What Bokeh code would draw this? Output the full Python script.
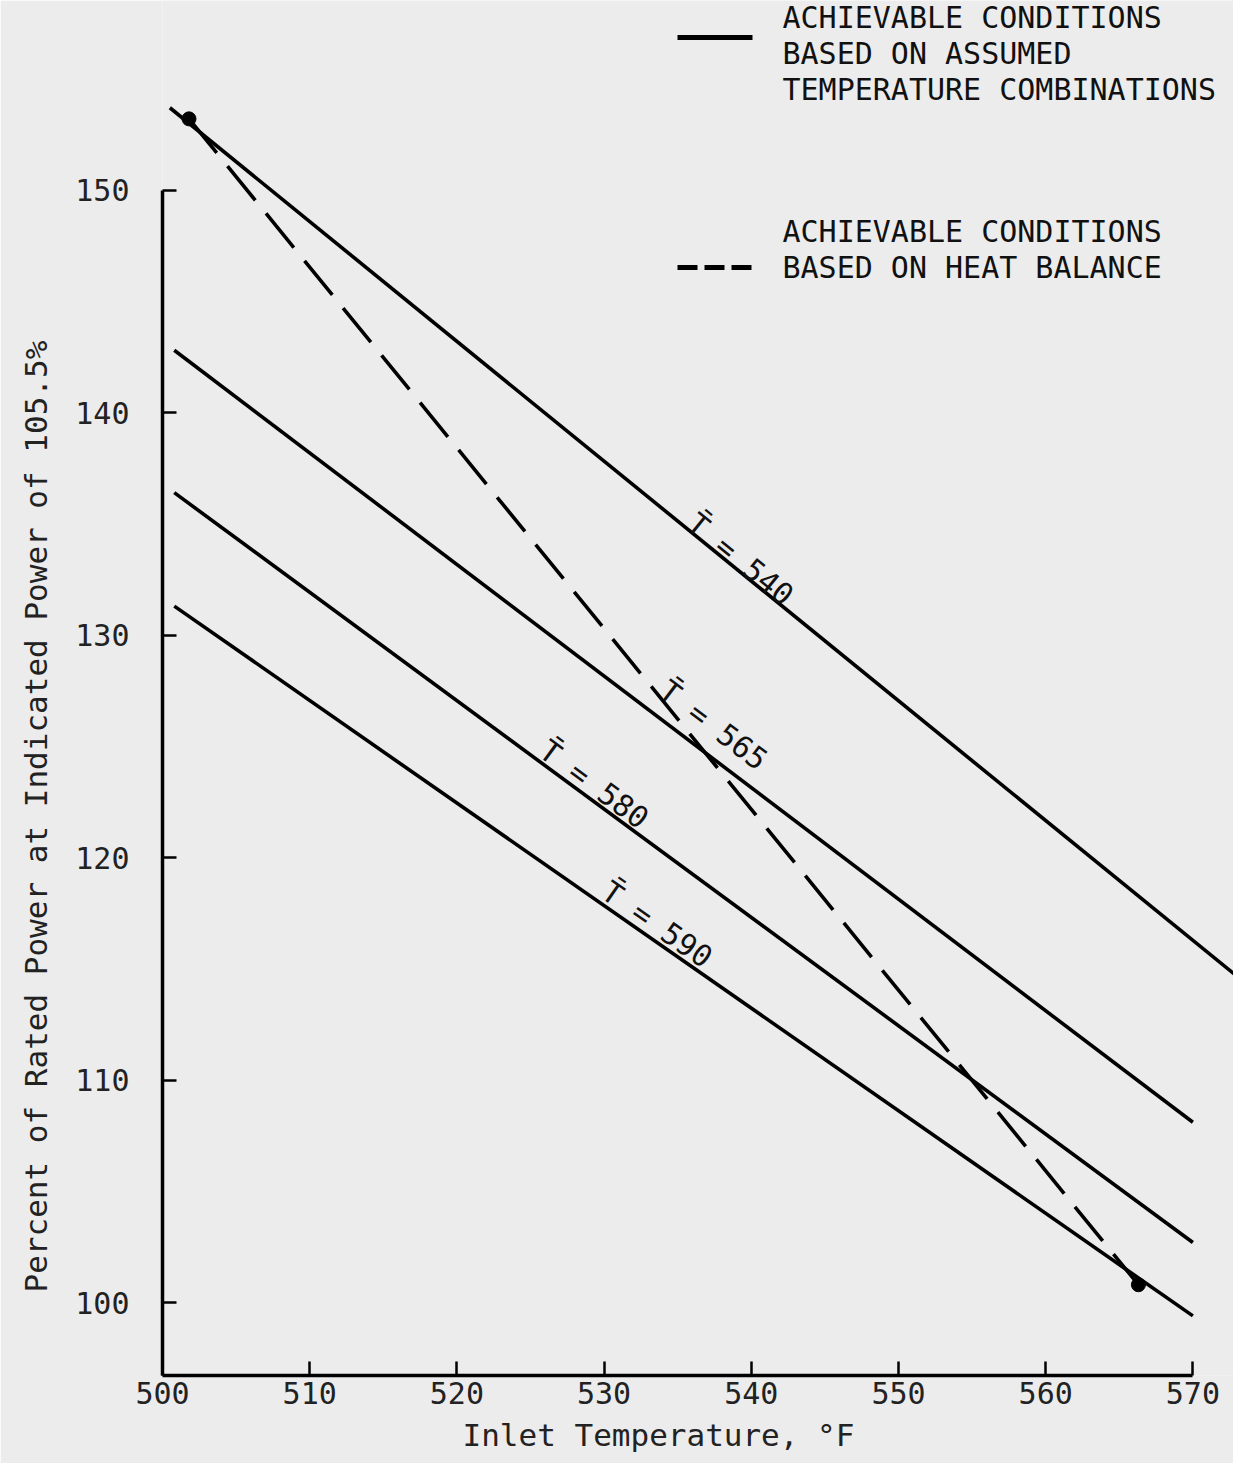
import math
from bokeh.plotting import figure
from bokeh.models import FixedTicker, Title
from bokeh.embed import file_html
from bokeh.resources import INLINE
from bokeh.core.properties import value

# ---------------- data ----------------
t_labels = ["T\u0304 = 540", "T\u0304 = 565", "T\u0304 = 580", "T\u0304 = 590"]
line_x_start = [500.5, 500.8, 500.8, 500.8]
line_y_start = [153.7, 142.8, 136.4, 131.3]
line_x_end = [573.3, 570.0, 570.0, 570.0]
line_y_end = [114.5, 108.1, 102.7, 99.4]
label_x = [535.5, 532.9, 525.3, 529.5]          # where each T-label sits along its line

heat_x = [501.8, 566.3]                           # heat-balance line end points
heat_y = [153.2, 100.8]

x_ticks = [500, 510, 520, 530, 540, 550, 560, 570]
y_ticks = [100, 110, 120, 130, 140, 150]

legend_solid_text = ["ACHIEVABLE CONDITIONS", "BASED ON ASSUMED", "TEMPERATURE COMBINATIONS"]
legend_dash_text = ["ACHIEVABLE CONDITIONS", "BASED ON HEAT BALANCE"]
x_label = "Inlet Temperature, \u00b0F"
y_label = "Percent of Rated Power at Indicated Power of 105.5%"

# ---------------- layout ----------------
FONT = "DejaVu Sans Mono"
BG = "#ececec"
FW, FH = 1071, 1375
X0, X1 = 500.0, 572.76
Y0, Y1 = 96.72, 158.52
kx = FW / (X1 - X0)
ky = FH / (Y1 - Y0)
LEFT_PX, TOP_PX = 170, 8   # reference position of frame's left / top edge


def px_x(px):
    return X0 + (px - LEFT_PX) / kx


def px_y(py):
    return Y1 - (py - TOP_PX) / ky


p = figure(frame_width=FW, frame_height=FH, x_range=(X0, X1), y_range=(Y0, Y1),
           min_border_left=162, min_border_right=0, min_border_top=0, min_border_bottom=88,
           output_backend="svg", toolbar_location=None, tools="")
p.background_fill_color = BG
p.border_fill_color = BG
p.outline_line_color = None
p.xgrid.visible = False
p.ygrid.visible = False

for ax, ticks, bounds in ((p.xaxis, x_ticks, (500, 570)), (p.yaxis, y_ticks, (Y0, 150))):
    ax.ticker = FixedTicker(ticks=ticks)
    ax.bounds = bounds
    ax.major_tick_in = 14
    ax.major_tick_out = 0
    ax.minor_tick_in = 0
    ax.minor_tick_out = 0
    ax.axis_line_width = 3.5
    ax.axis_line_color = "black"
    ax.major_tick_line_width = 2.5
    ax.major_tick_line_color = "black"
    ax.major_label_text_font = FONT
    ax.major_label_text_font_size = "30px"
    ax.major_label_text_color = "#222222"
p.xaxis.major_label_standoff = 6
p.yaxis.major_label_standoff = 33

# axis titles (as titles, so they can be placed off-centre like the reference)
p.add_layout(Title(text=x_label, align="left", offset=300, standoff=16,
                   vertical_align="bottom",
                   text_font=FONT, text_font_size="31px", text_font_style="normal",
                   text_color="#222222"), "below")
p.add_layout(Title(text=y_label, align="left", offset=83, standoff=34,
                   vertical_align="top",
                   text_font=FONT, text_font_size="31px", text_font_style="normal",
                   text_color="#222222"), "left")

# constant-average-temperature lines
p.segment(x0=line_x_start, y0=line_y_start, x1=line_x_end, y1=line_y_end,
          line_color="black", line_width=3.6)

# heat balance line with end dots
p.line(heat_x, heat_y, line_color="black", line_width=3.6, line_dash="44 17")
p.scatter(heat_x, heat_y, size=14, color="black")

# labels along lines
label_gap = [10, 27, 14, 15]
tx, ty, ta = [], [], []
for i in range(len(t_labels)):
    dx = line_x_end[i] - line_x_start[i]
    dy = line_y_end[i] - line_y_start[i]
    th = math.atan2(dy * ky, dx * kx)
    yl = line_y_start[i] + (label_x[i] - line_x_start[i]) * dy / dx
    tx.append(label_x[i] + label_gap[i] * (-math.sin(th)) / kx)
    ty.append(yl + label_gap[i] * math.cos(th) / ky)
    ta.append(th)
p.text(x=tx, y=ty, text=t_labels, angle=ta, text_align="left", text_baseline="alphabetic",
       text_font=value(FONT), text_font_size="30px", text_color="#111111")

# legend
p.segment(x0=[px_x(685)], y0=[px_y(45)], x1=[px_x(760)], y1=[px_y(45)],
          line_color="black", line_width=5)
p.segment(x0=[px_x(685)], y0=[px_y(275)], x1=[px_x(760)], y1=[px_y(275)],
          line_color="black", line_width=5, line_dash="20 7")
p.text(x=[px_x(790)] * 3, y=[px_y(25), px_y(61), px_y(97)], text=legend_solid_text,
       text_align="left", text_baseline="middle", text_font=value(FONT),
       text_font_size="30px", text_color="#111111")
p.text(x=[px_x(790)] * 2, y=[px_y(239), px_y(275)], text=legend_dash_text,
       text_align="left", text_baseline="middle", text_font=value(FONT),
       text_font_size="30px", text_color="#111111")

open("out.html", "w").write(file_html(p, INLINE))
